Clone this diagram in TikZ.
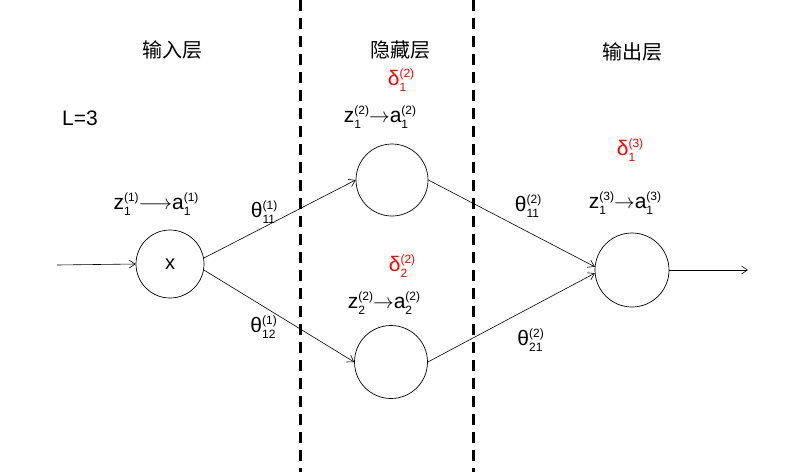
\documentclass[tikz,border=0pt]{standalone}
\usepackage{fontspec}
\setmainfont{Liberation Sans}
\newfontfamily\cjk{Noto Sans CJK SC}
\usetikzlibrary{arrows.meta}
\newcommand\idxfont{\fontsize{12}{12}\selectfont}
\newcommand\ix[3]{#1{\idxfont\setbox0\hbox{#2}\setbox2\hbox{#3}\rlap{\raisebox{7.5pt}{\copy0}}\raisebox{-6pt}{\copy2}\ifdim\wd0>\wd2 \hspace{\dimexpr\wd0-\wd2\relax}\fi}}
\begin{document}
\begin{tikzpicture}[x=1pt,y=-1pt,
  neuron/.style={draw,circle,line width=0.7pt,inner sep=0pt},
  conn/.style={line width=0.6pt,-{Straight Barb[length=6pt,width=8pt]}},
  sep/.style={line width=3pt,dash pattern=on 11pt off 7pt},
  lbl/.style={font=\fontsize{21}{21}\selectfont,inner sep=0pt},
  title/.style={font=\cjk\fontsize{20}{20}\selectfont,inner sep=0pt},
  delta/.style={lbl,text=red}]
\useasboundingbox (0,0) rectangle (803,472);
% separators
\coordinate (s1t) at (300,0); \coordinate (s1b) at (300,472);
\coordinate (s2t) at (473,0); \coordinate (s2b) at (473,472);
\draw[sep] (s1t) -- (s1b);
\draw[sep] (s2t) -- (s2b);
% titles
\node[title] (t1) at (172,50) {输入层};
\node[title] (t2) at (400,50) {隐藏层};
\node[title] (t3) at (632,52) {输出层};
\node[lbl] (L) at (80,118) {L=3};
% neurons
\node[neuron,minimum size=68pt,font=\fontsize{20}{20}\selectfont] (x) at (170,264) {x};
\node[neuron,minimum size=72pt] (h1) at (392,180) {};
\node[neuron,minimum size=73pt] (h2) at (391,362) {};
\node[neuron,minimum size=74pt] (o) at (632,270) {};
% input / output arrows
\coordinate (in) at (57,265);
\coordinate (out) at (748,270);
\draw[conn] (in) -- (x.west);
\draw[conn] (o.east) -- (out);
% connections
\draw[conn] (x.10) -- (h1.west);
\draw[conn] (x.-10) -- (h2.west);
\draw[conn] (h1.east) -- (o.175);
\draw[conn] (h2.east) -- (o.185);
% labels
\node[lbl] (za1) at (152,204) {\ix{z}{(1)}{1}$\longrightarrow$\ix{a}{(1)}{1}};
\node[lbl] (th1) at (263,212) {\ix{θ}{(1)}{11}};
\node[delta] (d21) at (397,80) {\ix{δ}{(2)}{1}};
\node[lbl] (za2) at (376,117) {\ix{z}{(2)}{1}$\rightarrow$\ix{a}{(2)}{1}};
\node[delta] (d22) at (398,266) {\ix{δ}{(2)}{2}};
\node[lbl] (za3) at (380,303) {\ix{z}{(2)}{2}$\rightarrow$\ix{a}{(2)}{2}};
\node[lbl] (th2) at (263,327) {\ix{θ}{(1)}{12}};
\node[lbl] (th3) at (527,206) {\ix{θ}{(2)}{11}};
\node[delta] (d31) at (626,150) {\ix{δ}{(3)}{1}};
\node[lbl] (za4) at (621,203) {\ix{z}{(3)}{1}$\rightarrow$\ix{a}{(3)}{1}};
\node[lbl] (th4) at (530,340) {\ix{θ}{(2)}{21}};
\end{tikzpicture}
\end{document}
